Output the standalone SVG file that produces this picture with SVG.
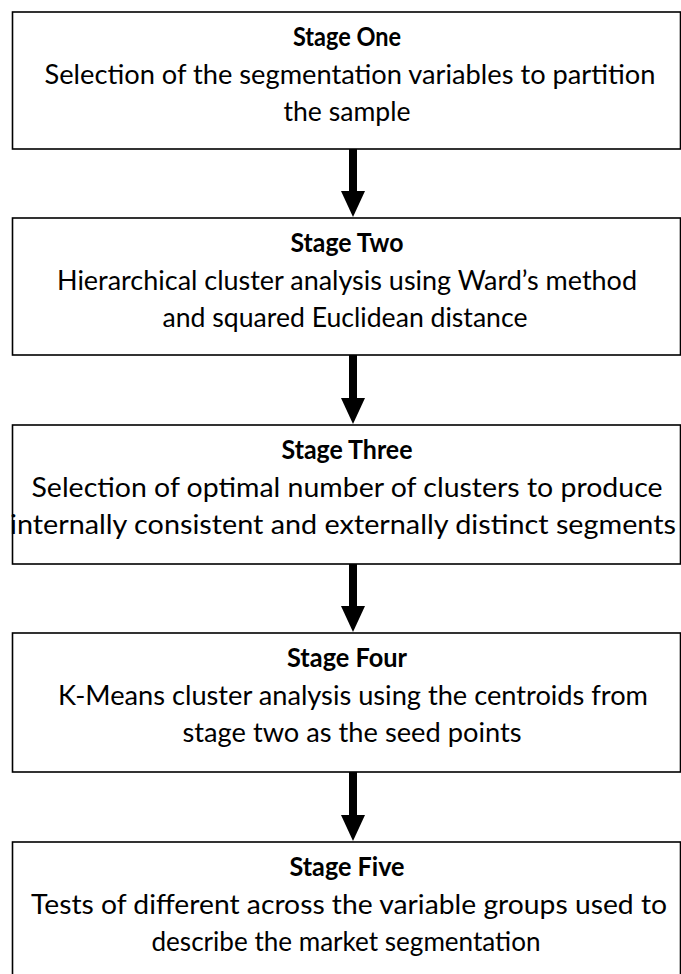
<svg xmlns="http://www.w3.org/2000/svg" width="681" height="974" viewBox="0 0 681 974">
  <defs>
    <style>
      .box { fill: #ffffff; stroke: #000000; stroke-width: 1.6; }
      .title { font-family: Lato, "Liberation Sans", sans-serif; font-weight: bold; font-size: 27px; fill: #000000; text-anchor: middle; }
      .body { font-family: Lato, "Liberation Sans", sans-serif; font-size: 27px; fill: #000000; text-anchor: middle; }
      .shaft { stroke: #000000; stroke-width: 8; fill: none; }
      .head { fill: #000000; }
    </style>
  </defs>
  <rect x="0" y="0" width="681" height="974" fill="#ffffff"/>

  <!-- Stage nodes -->
  <g id="stage-one">
    <rect class="box" x="12.5" y="12" width="668" height="137"/>
    <text class="title" x="347" y="46" textLength="108" lengthAdjust="spacingAndGlyphs">Stage One</text>
    <text class="body" x="350" y="84" textLength="611" lengthAdjust="spacingAndGlyphs">Selection of the segmentation variables to partition</text>
    <text class="body" x="347" y="121" textLength="127" lengthAdjust="spacingAndGlyphs">the sample</text>
  </g>

  <g id="stage-two">
    <rect class="box" x="12.5" y="218" width="668" height="137"/>
    <text class="title" x="347" y="252" textLength="113" lengthAdjust="spacingAndGlyphs">Stage Two</text>
    <text class="body" x="347" y="290" textLength="580" lengthAdjust="spacingAndGlyphs">Hierarchical cluster analysis using Ward’s method</text>
    <text class="body" x="345" y="327" textLength="365" lengthAdjust="spacingAndGlyphs">and squared Euclidean distance</text>
  </g>

  <g id="stage-three">
    <rect class="box" x="12.5" y="425" width="668" height="139"/>
    <text class="title" x="347" y="459" textLength="131" lengthAdjust="spacingAndGlyphs">Stage Three</text>
    <text class="body" x="347" y="497" textLength="631" lengthAdjust="spacingAndGlyphs">Selection of optimal number of clusters to produce</text>
    <text class="body" x="343" y="534" textLength="666" lengthAdjust="spacingAndGlyphs">internally consistent and externally distinct segments</text>
  </g>

  <g id="stage-four">
    <rect class="box" x="12.5" y="633" width="668" height="139"/>
    <text class="title" x="347" y="667" textLength="120" lengthAdjust="spacingAndGlyphs">Stage Four</text>
    <text class="body" x="353" y="705" textLength="590" lengthAdjust="spacingAndGlyphs">K-Means cluster analysis using the centroids from</text>
    <text class="body" x="352" y="742" textLength="339" lengthAdjust="spacingAndGlyphs">stage two as the seed points</text>
  </g>

  <g id="stage-five">
    <rect class="box" x="12.5" y="842" width="668" height="150"/>
    <text class="title" x="347" y="876" textLength="115" lengthAdjust="spacingAndGlyphs">Stage Five</text>
    <text class="body" x="349" y="914" textLength="636" lengthAdjust="spacingAndGlyphs">Tests of different across the variable groups used to</text>
    <text class="body" x="346" y="951" textLength="389" lengthAdjust="spacingAndGlyphs">describe the market segmentation</text>
  </g>

  <!-- Connectors between stages -->
  <g id="connectors">
    <line class="shaft" x1="353" y1="149" x2="353" y2="192"/>
    <polygon class="head" points="341,191 365,191 353,217"/>
    <line class="shaft" x1="353" y1="355" x2="353" y2="399"/>
    <polygon class="head" points="341,398 365,398 353,424"/>
    <line class="shaft" x1="353" y1="564" x2="353" y2="607"/>
    <polygon class="head" points="341,606 365,606 353,632"/>
    <line class="shaft" x1="353" y1="772" x2="353" y2="816"/>
    <polygon class="head" points="341,815 365,815 353,841"/>
  </g>
</svg>
